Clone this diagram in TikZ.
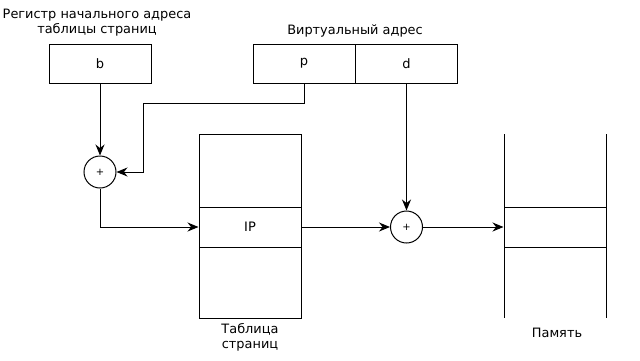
\documentclass[tikz,border=0pt]{standalone}
\usepackage{fontspec}
\setmainfont{DejaVu Sans}
\usetikzlibrary{arrows.meta,positioning,calc}

\begin{document}
\begin{tikzpicture}[x=1pt,y=-1pt,>={Stealth[length=11pt,width=9pt]},line width=1pt,
  cell/.style={draw,minimum width=102pt,minimum height=39pt,inner sep=0pt,font=\fontsize{13}{15}\selectfont},
  adder/.style={draw,circle,minimum size=32pt,inner sep=0pt,font=\fontsize{10}{12}\selectfont},
  lbl/.style={align=center,font=\fontsize{12.9}{15}\selectfont}]
  \useasboundingbox (0,0) rectangle (640,360);
  % registers
  \node[cell] (b) at (100,63.5) {b};
  \node[cell] (p) at (304,63.5) {p};
  \node[cell] (d) at (406.5,63.5) {d};
  \node[lbl] (bname) at (97,22.5) {Регистр начального адреса\\таблицы страниц};
  \node[lbl] (vname) at (355,31) {Виртуальный адрес};
  % page table
  \node[draw,minimum width=102pt,minimum height=184pt,inner sep=0pt] (tbl) at (250,226) {};
  \node[cell,minimum height=40pt] (ip) at (250,227) {IP};
  \node[lbl] (tname) at (250,337.5) {Таблица\\страниц};
  % adders
  \node[adder] (add1) at (b |- 0,172) {+};
  \node[adder] (add2) at (d |- ip) {+};
  % memory
  \node[cell,minimum height=40pt] (mem) at (555,227) {};
  \draw (504,134) -- (504,318);
  \draw (606,134) -- (606,318);
  \node[lbl] (mname) at (557,333) {Память};
  % connectors
  \coordinate (pk) at (143,103);
  \draw[->] (b) -- (add1);
  \draw[->] (p.south) |- (pk) |- (add1.east);
  \draw[->] (add1.south) |- (ip.west);
  \draw[->] (ip) -- (add2);
  \draw[->] (d) -- (add2);
  \draw[->] (add2) -- (mem.west);
\end{tikzpicture}
\end{document}
